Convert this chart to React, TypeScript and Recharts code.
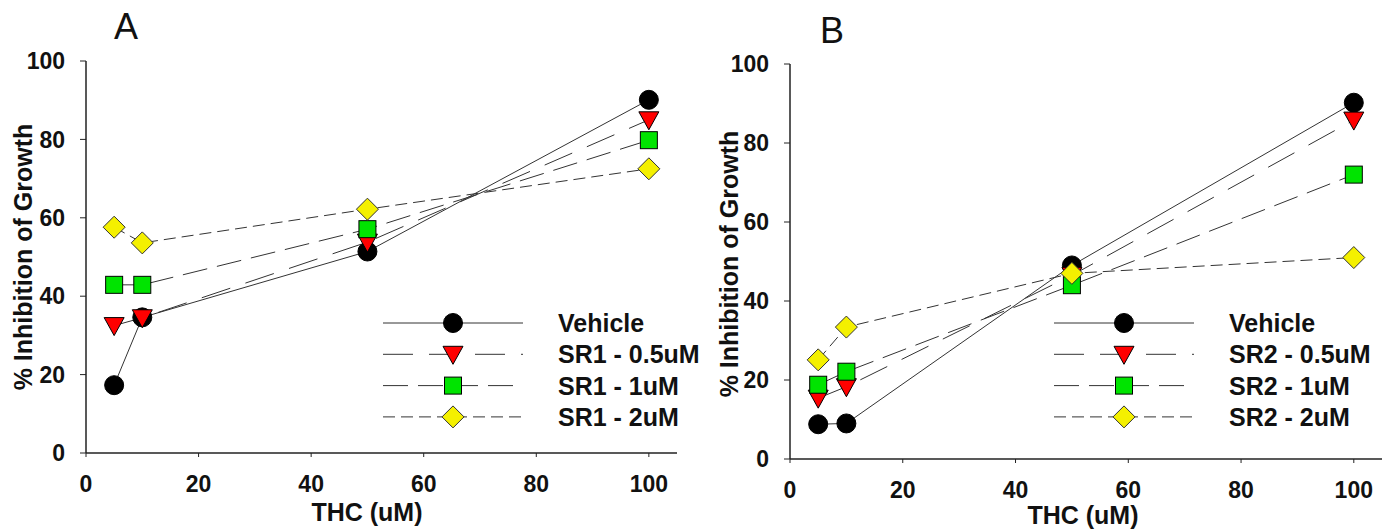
import { Legend, Line, LineChart, XAxis, YAxis } from 'recharts'

const FONT = "'Liberation Sans', Arial, Helvetica, sans-serif"

// THC doses (uM) on the x axis
const thcDoses = [5, 10, 50, 100]
const xTicks = [0, 20, 40, 60, 80, 100]
const yTicks = [0, 20, 40, 60, 80, 100]

// panel A: SR1 pretreatment
const vehicleA = [17.3, 34.6, 51.4, 90.1]
const sr1Half = [32.5, 34.5, 53.8, 85.0]
const sr1One = [42.9, 42.9, 57.1, 79.8]
const sr1Two = [57.6, 53.6, 62.2, 72.5]
const namesA = ['Vehicle', 'SR1 - 0.5uM', 'SR1 - 1uM', 'SR1 - 2uM']

// panel B: SR2 pretreatment
const vehicleB = [8.8, 9.0, 49.0, 90.2]
const sr2Half = [15.4, 18.3, 46.5, 85.8]
const sr2One = [18.8, 22.1, 44.0, 72.0]
const sr2Two = [25.1, 33.4, 47.0, 51.0]
const namesB = ['Vehicle', 'SR2 - 0.5uM', 'SR2 - 1uM', 'SR2 - 2uM']

type Shape = 'circle' | 'triangle' | 'square' | 'diamond'

const seriesStyles: { shape: Shape; dash?: string }[] = [
  { shape: 'circle' },
  { shape: 'triangle', dash: '30 16' },
  { shape: 'square', dash: '25 10' },
  { shape: 'diamond', dash: '12 6' },
]

const buildRows = (cols: number[][]) =>
  thcDoses.map((thc, i) => {
    const row: Record<string, number> = { thc }
    cols.forEach((c, k) => {
      row[`s${k}`] = c[i]
    })
    return row
  })

const rowsA = buildRows([vehicleA, sr1Half, sr1One, sr1Two])
const rowsB = buildRows([vehicleB, sr2Half, sr2One, sr2Two])

function Marker({ shape, cx, cy }: { shape: Shape; cx: number; cy: number }) {
  if (cx == null || cy == null) return null
  if (shape === 'circle') {
    return <circle cx={cx} cy={cy} r={9.5} fill="#000" stroke="#000" strokeWidth={1} />
  }
  if (shape === 'triangle') {
    return (
      <polygon
        points={`${cx - 10},${cy - 8} ${cx + 10},${cy - 8} ${cx},${cy + 10}`}
        fill="#ff0000"
        stroke="#000"
        strokeWidth={1}
      />
    )
  }
  if (shape === 'square') {
    return <rect x={cx - 8.5} y={cy - 8.5} width={17} height={17} fill="#00e400" stroke="#000" strokeWidth={1} />
  }
  return (
    <polygon
      points={`${cx},${cy - 11} ${cx + 11},${cy} ${cx},${cy + 11} ${cx - 11},${cy}`}
      fill="#f4f000"
      stroke="#333"
      strokeWidth={1}
    />
  )
}

function LegendBox({ names }: { names: string[] }) {
  return (
    <svg width={330} height={130} style={{ overflow: 'visible', display: 'block' }}>
      {seriesStyles.map((s, k) => {
        const y = 15 + k * 31.3
        return (
          <g key={k}>
            <line x1={0} x2={140} y1={y} y2={y} stroke="#333" strokeWidth={1} strokeDasharray={s.dash} />
            <Marker shape={s.shape} cx={70} cy={y} />
            <text
              x={175}
              y={y}
              dy="0.36em"
              fontFamily={FONT}
              fontWeight={700}
              fontSize={25}
              fill="#111"
            >
              {names[k]}
            </text>
          </g>
        )
      })}
    </svg>
  )
}

const tickStyle = { fill: '#111', fontSize: 23, fontWeight: 700, fontFamily: FONT }

interface PanelProps {
  left: number
  width: number
  margin: { top: number; right: number; bottom: number; left: number }
  rows: Record<string, number>[]
  names: string[]
  letter: string
  letterPos: [number, number]
  yTitlePos: [number, number]
  xTitlePos: [number, number]
  legendPos: [number, number]
}

function Panel({ left, width, margin, rows, names, letter, letterPos, yTitlePos, xTitlePos, legendPos }: PanelProps) {
  return (
    <div style={{ position: 'absolute', left, top: 0 }}>
      <LineChart width={width} height={529} data={rows} margin={margin}>
        <XAxis
          type="number"
          dataKey="thc"
          domain={[0, 105]}
          ticks={xTicks}
          height={30}
          tickSize={4}
          tickMargin={19}
          tick={tickStyle}
          axisLine={{ stroke: '#222', strokeWidth: 1.5 }}
          tickLine={{ stroke: '#222' }}
          label={{
            content: () => (
              <text
                x={xTitlePos[0]}
                y={xTitlePos[1]}
                textAnchor="middle"
                fontFamily={FONT}
                fontWeight={700}
                fontSize={25}
                fill="#111"
              >
                THC (uM)
              </text>
            ),
          }}
        />
        <YAxis
          type="number"
          domain={[0, 100]}
          ticks={yTicks}
          width={60}
          tickSize={6}
          tickMargin={15}
          tick={tickStyle}
          axisLine={{ stroke: '#222', strokeWidth: 1.5 }}
          tickLine={{ stroke: '#222' }}
          label={{
            content: () => (
              <g>
                <text
                  x={yTitlePos[0]}
                  y={yTitlePos[1]}
                  transform={`rotate(-90, ${yTitlePos[0]}, ${yTitlePos[1]})`}
                  textAnchor="middle"
                  fontFamily={FONT}
                  fontWeight={700}
                  fontSize={25}
                  fill="#111"
                >
                  % Inhibition of Growth
                </text>
                <text
                  x={letterPos[0]}
                  y={letterPos[1]}
                  textAnchor="middle"
                  fontFamily={FONT}
                  fontSize={36}
                  fill="#111"
                >
                  {letter}
                </text>
              </g>
            ),
          }}
        />
        {seriesStyles.map((s, k) => (
          <Line
            key={k}
            type="linear"
            dataKey={`s${k}`}
            name={names[k]}
            stroke="#333"
            strokeWidth={1}
            strokeDasharray={s.dash}
            dot={(p: any) => <Marker key={`${k}-${p.index}`} shape={s.shape} cx={p.cx} cy={p.cy} />}
            activeDot={false}
            isAnimationActive={false}
          />
        ))}
        <Legend
          layout="vertical"
          align="center"
          verticalAlign="middle"
          wrapperStyle={{ left: legendPos[0], top: legendPos[1], width: 330 }}
          content={() => <LegendBox names={names} />}
        />
      </LineChart>
    </div>
  )
}

export default function App() {
  return (
    <div style={{ position: 'absolute', left: 0, top: 0, width: 1387, height: 529, background: '#fff' }}>
      <Panel
        left={0}
        width={700}
        margin={{ top: 61, right: 23, bottom: 46, left: 26 }}
        rows={rowsA}
        names={namesA}
        letter="A"
        letterPos={[126, 39]}
        yTitlePos={[32, 257]}
        xTitlePos={[367, 521]}
        legendPos={[383, 308]}
      />
      <Panel
        left={700}
        width={687}
        margin={{ top: 64, right: 5, bottom: 40, left: 30 }}
        rows={rowsB}
        names={namesB}
        letter="B"
        letterPos={[132, 43]}
        yTitlePos={[38, 264]}
        xTitlePos={[383, 524]}
        legendPos={[354, 308]}
      />
    </div>
  )
}
